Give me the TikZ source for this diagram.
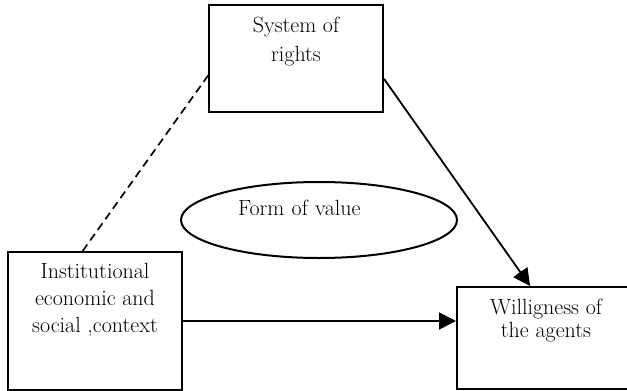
\documentclass[tikz,border=0pt]{standalone}
\usepackage{fontspec}
\usepackage{xcolor}
\usepackage{tikz}
\usetikzlibrary{calc}
\usetikzlibrary{arrows.meta}
\usetikzlibrary{shapes}
\usetikzlibrary{shapes.geometric}
\usetikzlibrary{positioning}
\tikzset{>=latex}
\tikzstyle{box} = [rectangle, draw=black, line width=2pt]
\tikzstyle{txt} = [align=center, inner sep=0, anchor=north, font=\fontsize{22}{29}\selectfont]
\tikzstyle{link} = [line width=1.8pt, -{Triangle[length=17pt, width=17pt]}]

\begin{document}
\begin{tikzpicture}[x=1pt, y=-1pt]
\useasboundingbox (0,0) rectangle (627,391);
%\node [draw=none] at (300,0) {...};
\node [box, minimum width=174pt, minimum height=107pt, label={[txt, yshift=-12.5pt]north:System of\\rights}] (rights) at (296, 58.5) {};
\node [box, minimum width=174pt, minimum height=138pt, label={[txt, yshift=-12pt, font=\fontsize{22}{27}\selectfont]north:Institutional\\economic and\\social ,context}] (inst) at (95, 321) {};
\node [box, minimum width=178pt, minimum height=102pt, label={[txt, yshift=-12.5pt, font=\fontsize{22}{23}\selectfont]north:Willigness of\\the agents}] (will) at (546, 338) {};
\node [ellipse, draw=black, line width=2pt, minimum width=276pt, minimum height=76pt, inner sep=0, text width=162pt, align=left, text depth=25pt, font=\fontsize{22}{24}\selectfont] (value) at (319, 220) {Form of value};
\draw [-, dashed, line width=1.7pt, dash pattern=on 8pt off 5pt] (inst.100) to (rights.191);
\draw [link] (rights.347) to (will.107);
\draw [link] (inst.east) to (inst.east -| will.west);
\end{tikzpicture}
\end{document}
